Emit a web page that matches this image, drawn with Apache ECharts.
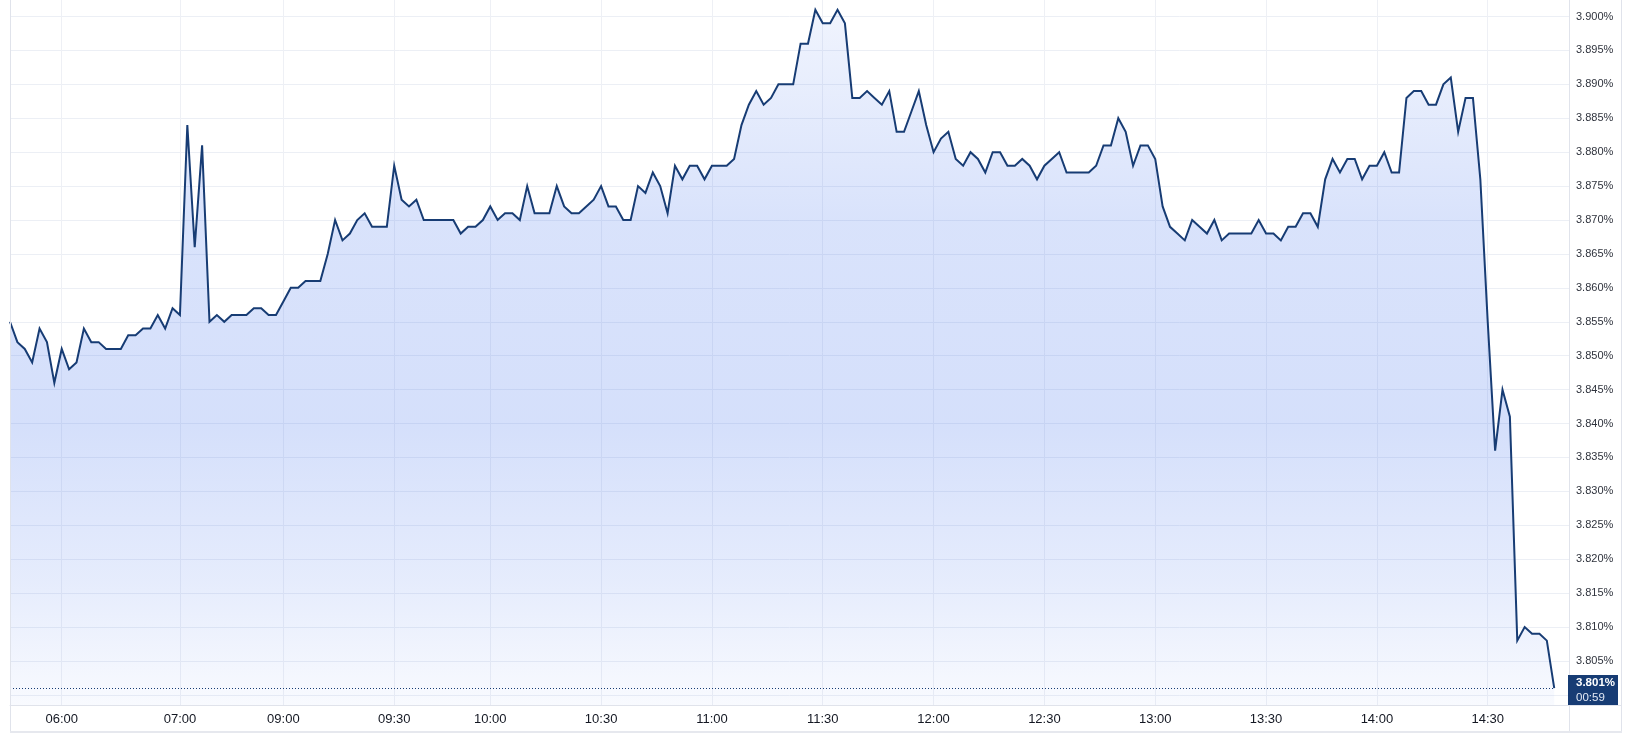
<!DOCTYPE html>
<html>
<head>
<meta charset="utf-8">
<script src="https://cdn.jsdelivr.net/npm/echarts@6/dist/echarts.min.js"></script>
<style>
html,body{margin:0;padding:0;background:#ffffff;}
#chart{width:1632px;height:736px;}
</style>
</head>
<body>
<div id="chart"></div>
<script>
// ---- data (yield in %, one value per 2-minute bar) ----
const yields = [
  3.855,3.852,3.851,3.849,3.854,3.852,3.846,3.851,3.848,3.849,
  3.854,3.852,3.852,3.851,3.851,3.851,3.853,3.853,3.854,3.854,
  3.856,3.854,3.857,3.856,3.884,3.866,3.881,3.855,3.856,3.855,
  3.856,3.856,3.856,3.857,3.857,3.856,3.856,3.858,3.860,3.860,
  3.861,3.861,3.861,3.865,3.870,3.867,3.868,3.870,3.871,3.869,
  3.869,3.869,3.878,3.873,3.872,3.873,3.870,3.870,3.870,3.870,
  3.870,3.868,3.869,3.869,3.870,3.872,3.870,3.871,3.871,3.870,
  3.875,3.871,3.871,3.871,3.875,3.872,3.871,3.871,3.872,3.873,
  3.875,3.872,3.872,3.870,3.870,3.875,3.874,3.877,3.875,3.871,
  3.878,3.876,3.878,3.878,3.876,3.878,3.878,3.878,3.879,3.884,
  3.887,3.889,3.887,3.888,3.890,3.890,3.890,3.896,3.896,3.901,
  3.899,3.899,3.901,3.899,3.888,3.888,3.889,3.888,3.887,3.889,
  3.883,3.883,3.886,3.889,3.884,3.880,3.882,3.883,3.879,3.878,
  3.880,3.879,3.877,3.880,3.880,3.878,3.878,3.879,3.878,3.876,
  3.878,3.879,3.880,3.877,3.877,3.877,3.877,3.878,3.881,3.881,
  3.885,3.883,3.878,3.881,3.881,3.879,3.872,3.869,3.868,3.867,
  3.870,3.869,3.868,3.870,3.867,3.868,3.868,3.868,3.868,3.870,
  3.868,3.868,3.867,3.869,3.869,3.871,3.871,3.869,3.876,3.879,
  3.877,3.879,3.879,3.876,3.878,3.878,3.880,3.877,3.877,3.888,
  3.889,3.889,3.887,3.887,3.890,3.891,3.883,3.888,3.888,3.876,
  3.855,3.836,3.845,3.841,3.808,3.810,3.809,3.809,3.808,3.801
];
const slotCount = 212;                       // bar slots on the time axis
const tickIndex  = [7,23,37,52,65,80,95,110,125,140,155,170,185,200];
const tickLabels = ['06:00','07:00','09:00','09:30','10:00','10:30','11:00','11:30','12:00','12:30','13:00','13:30','14:00','14:30'];
const yMin = 3.800, yMax = 3.900, yStep = 0.005;
const countdown = '00:59';

// ---- build ----
const categories = Array.from({length: slotCount}, (_, i) => String(i));
const labelMap = new Map(tickIndex.map((k, j) => [k, tickLabels[j]]));
const lastVal = yields[yields.length - 1];

const NAVY = '#173c74';
const GRID_L = 10, GRID_R = 1569, PLOT_BOTTOM = 705;
const Y_TOP_PX = 16.5, Y_BOT_PX = 694.9;     // pixel rows of 3.900% and 3.800%
const pxPerUnit = (Y_BOT_PX - Y_TOP_PX) / (yMax - yMin);

const chart = echarts.init(document.getElementById('chart'), null, {renderer: 'canvas'});

const option = {
  backgroundColor: '#ffffff',
  animation: false,
  grid: [
    {left: GRID_L, right: 1632 - GRID_R, top: 0, bottom: 736 - PLOT_BOTTOM, containLabel: false},
    {left: GRID_L, right: 1632 - GRID_R, top: Y_TOP_PX, bottom: 736 - Y_BOT_PX, containLabel: false}
  ],
  xAxis: [
    {
      type: 'category', gridIndex: 0, data: categories, boundaryGap: false,
      axisLine: {show: true, lineStyle: {color: '#e0e3eb', width: 1}},
      axisTick: {show: false},
      axisLabel: {
        interval: (idx) => labelMap.has(idx),
        formatter: (val) => labelMap.get(Number(val)) || '',
        color: '#131722', fontSize: 13, fontFamily: 'Liberation Sans, Arial, sans-serif',
        margin: 8, hideOverlap: false
      },
      splitLine: {show: true, interval: (idx) => labelMap.has(idx), lineStyle: {color: '#eef0f5', width: 1}}
    },
    {type: 'category', gridIndex: 1, data: categories, boundaryGap: false, show: false}
  ],
  yAxis: [
    {
      type: 'value', gridIndex: 0,
      min: yMin - (PLOT_BOTTOM - Y_BOT_PX) / pxPerUnit,
      max: yMax + Y_TOP_PX / pxPerUnit,
      show: false, splitLine: {show: false}
    },
    {
      type: 'value', gridIndex: 1, position: 'right',
      min: yMin, max: yMax, interval: yStep,
      axisLine: {show: false}, axisTick: {show: false},
      axisLabel: {
        formatter: (v) => (Math.abs(v - yMin) < 1e-9 ? '' : v.toFixed(3) + '%'),
        color: '#2f333d', fontSize: 11, fontFamily: 'Liberation Sans, Arial, sans-serif',
        margin: 7, align: 'left'
      },
      splitLine: {show: true, lineStyle: {color: '#eceff5', width: 1}}
    }
  ],
  series: [{
    type: 'line',
    xAxisIndex: 0, yAxisIndex: 0,
    data: yields,
    showSymbol: false,
    symbol: 'none',
    clip: false,
    lineStyle: {color: NAVY, width: 2, join: 'miter'},
    areaStyle: {
      origin: 'start',
      opacity: 1,
      color: new echarts.graphic.LinearGradient(0, 0, 0, 1, [
        {offset: 0,    color: 'rgba(45,98,235,0.07)'},
        {offset: 0.3,  color: 'rgba(45,98,235,0.18)'},
        {offset: 0.6,  color: 'rgba(45,98,235,0.20)'},
        {offset: 0.82, color: 'rgba(45,98,235,0.12)'},
        {offset: 1,    color: 'rgba(45,98,235,0.03)'}
      ])
    },
    markLine: {
      silent: true, symbol: 'none', animation: false,
      label: {show: false},
      lineStyle: {color: NAVY, type: [1, 2], width: 1},
      data: [[{coord: [0, lastVal]}, {coord: [yields.length - 1, lastVal]}]]
    },
    z: 3
  }]
};
chart.setOption(option);

// price box + frame
const yPix = chart.convertToPixel({yAxisIndex: 0}, lastVal);
chart.setOption({
  graphic: [
    {type: 'line', shape: {x1: GRID_L + 0.5, y1: 0, x2: GRID_L + 0.5, y2: 732}, style: {stroke: '#e0e3eb', lineWidth: 1}, z: 50},
    {type: 'line', shape: {x1: GRID_R + 0.5, y1: 0, x2: GRID_R + 0.5, y2: 732}, style: {stroke: '#e0e3eb', lineWidth: 1}, z: 50},
    {type: 'line', shape: {x1: 1621.5, y1: 0, x2: 1621.5, y2: 732}, style: {stroke: '#e0e3eb', lineWidth: 1}, z: 50},
    {type: 'line', shape: {x1: GRID_L, y1: PLOT_BOTTOM + 0.5, x2: 1622, y2: PLOT_BOTTOM + 0.5}, style: {stroke: '#e0e3eb', lineWidth: 1}, z: 50},
    {type: 'line', shape: {x1: GRID_L, y1: 732, x2: 1622, y2: 732}, style: {stroke: '#e6e8ee', lineWidth: 2}, z: 50},
    {type: 'rect', shape: {x: 1568, y: Math.round(yPix) - 13, width: 50, height: 30}, style: {fill: NAVY}, z: 60},
    {type: 'text', x: 1576, y: Math.round(yPix) - 5, style: {text: lastVal.toFixed(3) + '%', fill: '#ffffff', font: 'bold 11.5px Liberation Sans, Arial, sans-serif', verticalAlign: 'middle'}, z: 61},
    {type: 'text', x: 1576, y: Math.round(yPix) + 10, style: {text: countdown, fill: '#e3e9f5', font: '11.5px Liberation Sans, Arial, sans-serif', verticalAlign: 'middle'}, z: 61}
  ]
});
</script>
</body>
</html>
